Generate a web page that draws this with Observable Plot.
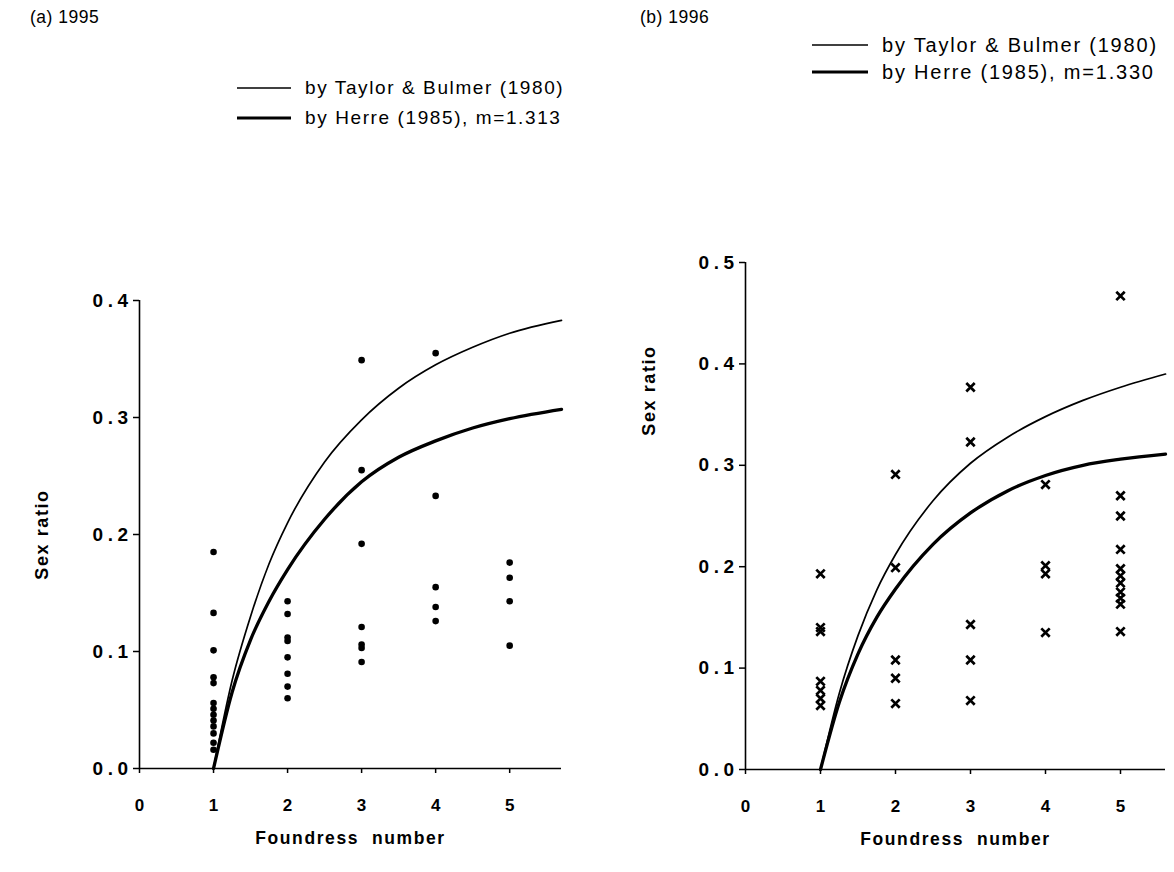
<!DOCTYPE html>
<html>
<head>
<meta charset="utf-8">
<script src="https://cdn.jsdelivr.net/npm/d3@7"></script>
<script src="https://cdn.jsdelivr.net/npm/@observablehq/plot@0.6"></script>
<style>
  html, body { margin: 0; padding: 0; background: #fff; }
  #page { position: relative; width: 1174px; height: 872px; font-family: "Liberation Sans", Arial, sans-serif; color: #000; }
  .title { position: absolute; font-size: 17.5px; letter-spacing: 0.5px; }
  .leg { position: absolute; letter-spacing: 1.6px; line-height: 22px; white-space: nowrap; }
  .legA { font-size: 19px; }
  .legB { font-size: 20px; letter-spacing: 1.8px; }
  .legline { position: absolute; }
  .panel { position: absolute; top: 250px; }
  .panel [aria-label="y-axis tick label"] text { letter-spacing: 4.5px; }
  .panel g[aria-label="text"] text { letter-spacing: 1.6px; }
</style>
</head>
<body>
<div id="page">
  <div class="title" style="left:30px; top:7px;">(a) 1995</div>
  <div class="title" style="left:640px; top:7px;">(b) 1996</div>

  <svg class="legline" style="left:237px; top:78px;" width="56" height="50">
    <line x1="0" x2="54" y1="10" y2="10" stroke="#000" stroke-width="1.6"/>
    <line x1="0" x2="54" y1="40" y2="40" stroke="#000" stroke-width="3.2"/>
  </svg>
  <div class="leg legA" style="left:305px; top:77px;">by Taylor &amp; Bulmer (1980)</div>
  <div class="leg legA" style="left:305px; top:107px;">by Herre (1985), m=1.313</div>

  <svg class="legline" style="left:812px; top:35px;" width="58" height="50">
    <line x1="0" x2="56" y1="10" y2="10" stroke="#000" stroke-width="1.6"/>
    <line x1="0" x2="56" y1="37" y2="37" stroke="#000" stroke-width="3.2"/>
  </svg>
  <div class="leg legB" style="left:882px; top:34px;">by Taylor &amp; Bulmer (1980)</div>
  <div class="leg legB" style="left:882px; top:61px;">by Herre (1985), m=1.330</div>

  <div class="panel" id="panelA" style="left:0px;"></div>
  <div class="panel" id="panelB" style="left:587px;"></div>
</div>
<script>
// ---------- data ----------
const xTicks = [0, 1, 2, 3, 4, 5];
const yTicks1995 = [0, 0.1, 0.2, 0.3, 0.4];
const yTicks1996 = [0, 0.1, 0.2, 0.3, 0.4, 0.5];

// (a) 1995 observed sex ratios (dots)
const foundress1995 = [1,1,1,1,1,1,1,1,1,1,1,1,1, 2,2,2,2,2,2,2,2, 3,3,3,3,3,3,3, 4,4,4,4,4, 5,5,5,5];
const sexRatio1995  = [0.185,0.133,0.101,0.078,0.073,0.056,0.051,0.046,0.041,0.036,0.030,0.022,0.016,
                       0.143,0.132,0.112,0.109,0.095,0.081,0.070,0.060,
                       0.349,0.255,0.192,0.121,0.106,0.103,0.091,
                       0.355,0.233,0.155,0.138,0.126,
                       0.176,0.163,0.143,0.105];

// (b) 1996 observed sex ratios (crosses)
const foundress1996 = [1,1,1,1,1,1,1, 2,2,2,2,2, 3,3,3,3,3, 4,4,4,4, 5,5,5,5,5,5,5,5,5,5,5];
const sexRatio1996  = [0.193,0.140,0.136,0.087,0.078,0.070,0.063,
                       0.291,0.199,0.108,0.090,0.065,
                       0.377,0.323,0.143,0.108,0.068,
                       0.281,0.201,0.193,0.135,
                       0.467,0.270,0.250,0.217,0.198,0.191,0.184,0.175,0.169,0.163,0.136];

// predicted curves
const curveN1995    = [1, 1.25, 1.5, 1.75, 2, 2.5, 3, 3.5, 4, 4.5, 5, 5.7];
const taylor1995    = [0, 0.075, 0.130, 0.175, 0.210, 0.262, 0.298, 0.325, 0.345, 0.360, 0.372, 0.383];
const herre1995     = [0, 0.065, 0.110, 0.143, 0.170, 0.213, 0.245, 0.266, 0.280, 0.291, 0.299, 0.307];

const curveN1996    = [1, 1.25, 1.5, 1.75, 2, 2.5, 3, 3.5, 4, 4.5, 5, 5.6];
const taylor1996    = [0, 0.075, 0.132, 0.177, 0.212, 0.265, 0.302, 0.328, 0.348, 0.364, 0.377, 0.390];
const herre1996     = [0, 0.066, 0.114, 0.150, 0.178, 0.222, 0.253, 0.275, 0.290, 0.300, 0.306, 0.311];

// ---------- build ----------
const font = "'Liberation Sans', Arial, sans-serif";
const toRows = (xs, ys) => xs.map((x, i) => ({x, y: ys[i]}));

function panel({yDomain, yTicks, xMax, marginLeft, marginRight, marginTop, marginBottom,
                pts, taylor, herre, cross, ylabelAnchor, ylabelDx, ylabelDy}) {
  return Plot.plot({
    width: 587, height: 622,
    marginLeft, marginRight, marginTop, marginBottom,
    x: {domain: [0, xMax]},
    y: {domain: yDomain},
    style: {fontFamily: font, background: "transparent", overflow: "visible", color: "#000"},
    marks: [
      Plot.ruleY([0], {stroke: "#000", strokeWidth: 1.6}),
      Plot.ruleX([0], {stroke: "#000", strokeWidth: 1.6}),
      Plot.axisY({ticks: yTicks, tickFormat: d3.format(".1f"), tickSize: 6, tickPadding: 1,
                  label: null, fontSize: 19, fontWeight: "bold", strokeWidth: 1.5}),
      Plot.axisX({ticks: xTicks, tickFormat: d => String(d), tickSize: 5, tickPadding: 25,
                  label: null, fontSize: 17, fontWeight: "bold", strokeWidth: 1.5}),
      Plot.line(taylor, {x: "x", y: "y", curve: "monotone-x", stroke: "#000", strokeWidth: 1.7}),
      Plot.line(herre, {x: "x", y: "y", curve: "monotone-x", stroke: "#000", strokeWidth: 3.3}),
      cross
        ? Plot.dot(pts, {x: "x", y: "y", symbol: "times", r: 3.9, stroke: "#000", strokeWidth: 2.7})
        : Plot.dot(pts, {x: "x", y: "y", r: 3.3, fill: "#000", stroke: "none"}),
      Plot.text(["Sex ratio"], {text: d => d, frameAnchor: ylabelAnchor, dx: ylabelDx, dy: ylabelDy,
                 rotate: -90, fontSize: 18, fontWeight: "bold", textAnchor: "middle"}),
      Plot.text(["Foundress  number"], {text: d => d, frameAnchor: "bottom", dy: 75,
                 fontSize: 17.5, fontWeight: "bold", textAnchor: "middle"})
    ]
  });
}

document.getElementById("panelA").append(panel({
  yDomain: [0, 0.4], yTicks: yTicks1995, xMax: 5.7,
  marginLeft: 139, marginRight: 26, marginTop: 50, marginBottom: 104,
  pts: toRows(foundress1995, sexRatio1995),
  taylor: toRows(curveN1995, taylor1995), herre: toRows(curveN1995, herre1995),
  cross: false, ylabelAnchor: "left", ylabelDx: -97, ylabelDy: 0
}));

document.getElementById("panelB").append(panel({
  yDomain: [0, 0.5], yTicks: yTicks1996, xMax: 5.6,
  marginLeft: 158, marginRight: 9, marginTop: 12, marginBottom: 103,
  pts: toRows(foundress1996, sexRatio1996),
  taylor: toRows(curveN1996, taylor1996), herre: toRows(curveN1996, herre1996),
  cross: true, ylabelAnchor: "top-left", ylabelDx: -103, ylabelDy: 128
}));
</script>
</body>
</html>
